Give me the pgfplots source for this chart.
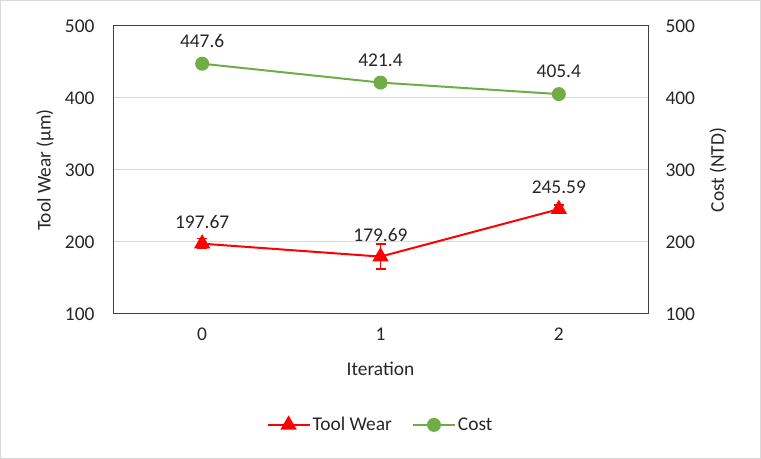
\documentclass[border=0pt]{standalone}
\usepackage{fontspec}
\setmainfont{Carlito}
\usepackage{pgfplots}
\pgfplotsset{compat=1.18}

\definecolor{wearred}{HTML}{FF0000}
\definecolor{costgreen}{HTML}{70AD47}
\definecolor{gridgray}{HTML}{D9D9D9}
\definecolor{framegray}{HTML}{404040}
\definecolor{txt}{HTML}{262626}

% iteration, value, error, label
\pgfplotstableread{
x y e lab
0 197.67 7 197.67
1 179.69 17.5 179.69
2 245.59 6 245.59
}\wear
\pgfplotstableread{
x y lab
0 447.6 447.6
1 421.4 421.4
2 405.4 405.4
}\cost

\pgfplotsset{
  base/.style={
    at={(113bp,145bp)}, anchor=south west,
    scale only axis, width=535bp, height=288bp,
    xmin=-0.5, xmax=2.5, ymin=100, ymax=500,
    xtick={0,1,2}, ytick={100,200,...,500},
    major tick length=0pt,
    tick label style={font=\fontsize{19.5}{23}\selectfont, text=txt},
    label style={font=\fontsize{19.5}{23}\selectfont, text=txt},
    /pgf/number format/assume math mode=true,
  },
  wearstyle/.style={wearred, line width=2bp, mark=triangle*,
    mark size=7.5bp, mark options={solid, fill=wearred}},
  coststyle/.style={costgreen, line width=2bp, mark=*,
    mark size=6bp, mark options={solid, fill=costgreen}},
}

\begin{document}
\begin{tikzpicture}[x=1bp,y=1bp]
\draw[gridgray, line width=1bp] (0.5,0.5) rectangle (760.5,458.5);

\begin{axis}[base,
  axis line style={framegray, line width=1bp},
  ymajorgrids, grid style={gridgray, line width=1bp},
  yticklabel style={xshift=-15bp},
  xticklabel style={yshift=-10bp},
  xlabel={Iteration},
  xlabel style={at={(axis description cs:0.5,-0.191)}, anchor=center},
  ylabel={Tool Wear (µm)},
  ylabel style={at={(axis description cs:-0.127,0.5)}, anchor=center},
  nodes near coords,
  point meta=explicit symbolic,
  every node near coord/.append style={font=\fontsize{19.5}{23}\selectfont,
    text=txt, anchor=south, yshift=11bp},
]
\addplot[wearstyle,
  error bars/.cd, y dir=both, y explicit,
  error bar style={wearred, line width=1.5bp},
  error mark options={rotate=90, mark size=5bp, line width=1.5bp, wearred}]
  table[x=x, y=y, y error=e, meta=lab] {\wear};
\end{axis}

\begin{axis}[base,
  axis y line*=right, axis x line=none,
  axis line style={draw=none},
  yticklabel style={xshift=14bp},
  ylabel={Cost (NTD)},
  ylabel style={at={(axis description cs:1.131,0.5)}, anchor=center},
  nodes near coords,
  point meta=explicit symbolic,
  every node near coord/.append style={font=\fontsize{19.5}{23}\selectfont,
    text=txt, anchor=south, yshift=12bp},
  legend columns=2,
  legend style={draw=none, fill=none, at={(0.5,-0.385)}, anchor=center,
    font=\fontsize{19.5}{23}\selectfont, text=txt,
    /tikz/every even column/.append style={column sep=18bp}},
  legend image code/.code={\draw[mark repeat=2, mark phase=2]
    plot coordinates {(0bp,0bp) (21bp,0bp) (42bp,0bp)};},
]
\addlegendimage{wearstyle}
\addlegendentry{Tool Wear}
\addplot[coststyle] table[x=x, y=y, meta=lab] {\cost};
\addlegendentry{Cost}
\end{axis}
\end{tikzpicture}
\end{document}
